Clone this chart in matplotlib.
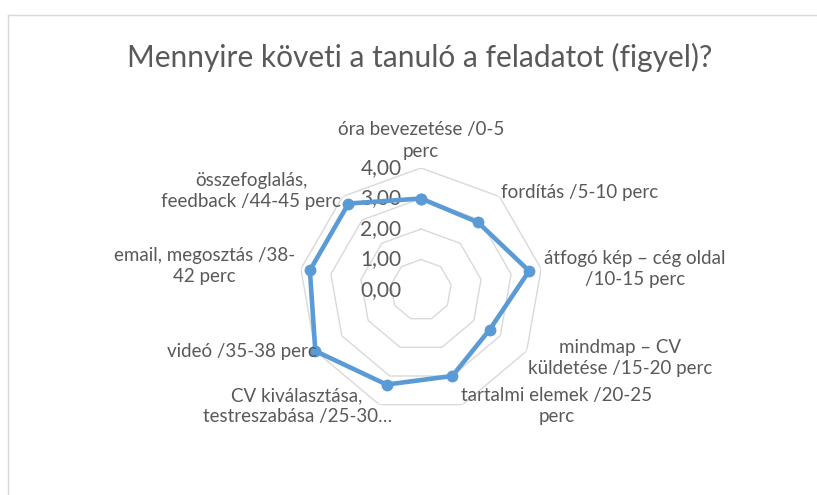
import numpy as np
import matplotlib
matplotlib.use("Agg")
from matplotlib import pyplot as plt
from matplotlib.lines import Line2D

plt.rcParams["font.family"] = ["Lato", "DejaVu Sans"]

# data
categories = [
    "óra bevezetése /0-5\nperc",
    "fordítás /5-10 perc",
    "átfogó kép – cég oldal\n/10-15 perc",
    "mindmap – CV\nküldetése /15-20 perc",
    "tartalmi elemek /20-25\nperc",
    "CV kiválasztása,\ntestreszabása /25-30…",
    "videó /35-38 perc",
    "email, megosztás /38-\n42 perc",
    "összefoglalás,\nfeedback /44-45 perc",
]
values = [3.0, 2.9, 3.6, 2.6, 3.0, 3.3, 4.0, 3.7, 3.7]
rings = [1, 2, 3, 4]
ring_labels = ["0,00", "1,00", "2,00", "3,00", "4,00"]
title = "Mennyire követi a tanuló a feladatot (figyel)?"

TEXT = "#595959"
BLUE = "#5B9BD5"
GRID = "#d9d9d9"

fig = plt.figure(figsize=(8.17, 4.95), dpi=100)

# chart frame (only left/top edges visible in the crop)
fig.add_artist(Line2D([8 / 817, 8 / 817], [0, 1 - 15 / 495], transform=fig.transFigure, color=GRID, lw=1))
fig.add_artist(Line2D([8 / 817, 1], [1 - 15 / 495, 1 - 15 / 495], transform=fig.transFigure, color=GRID, lw=1))

fig.text(420 / 817, 1 - 57 / 495, title, ha="center", va="center", fontsize=21.5,
         color=TEXT)

cx, cy, R = 421, 290, 122
ax = fig.add_axes([(cx - R) / 817, (495 - cy - R) / 495, 2 * R / 817, 2 * R / 495], projection="polar")
ax.set_theta_zero_location("N")
ax.set_theta_direction(-1)
ax.set_ylim(0, 4)
ax.set_axis_off()

n = len(categories)
theta = np.linspace(0, 2 * np.pi, n, endpoint=False)
theta_c = np.append(theta, theta[0])

for r in rings:
    ax.plot(theta_c, [r] * (n + 1), color=GRID, lw=1, zorder=1)

vals_c = np.append(values, values[0])
ax.plot(theta_c, vals_c, color=BLUE, lw=3.3, marker="o", ms=7.5, zorder=3, clip_on=False)

for i, lab in enumerate(ring_labels):
    ax.annotate(lab, (0, i), xytext=(-14, 0), textcoords="offset points",
                ha="right", va="center", fontsize=15, color=TEXT, zorder=2)

# label placement (alignment, offset in points)
label_pos = [
    ("center", "bottom", (0, 6)),
    ("left", "center", (1, 3)),
    ("left", "center", (2, 0)),
    ("left", "center", (1, -5)),
    ("left", "center", (-1, -1)),
    ("right", "center", (9, -1)),
    ("right", "center", (1, 0)),
    ("right", "center", (-4, 2)),
    ("right", "center", (-1, 4)),
]
for t, lab, (ha, va, off) in zip(theta, categories, label_pos):
    ax.annotate(lab, (t, 4), xytext=off, textcoords="offset points", ha=ha, va=va,
                multialignment="center", fontsize=13.5, color=TEXT, linespacing=1.3,
                annotation_clip=False)

fig.savefig("out.png", dpi=100)
